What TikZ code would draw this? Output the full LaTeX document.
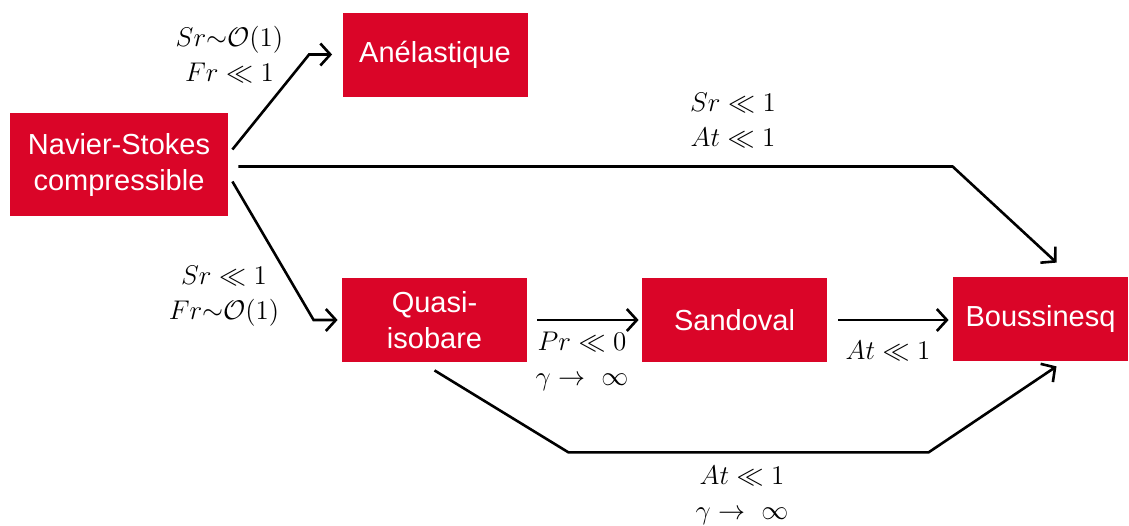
\RequirePackage{fix-cm}
\documentclass[tikz,border=0pt]{standalone}
\usepackage[no-math]{fontspec}
\usepackage{amsmath,amssymb}
\newfontfamily\boxfont{Liberation Sans}
\usetikzlibrary{arrows.meta,calc}
\definecolor{rouge}{RGB}{218,5,40}

\begin{document}
\begin{tikzpicture}[x=0.5pt,y=-0.5pt]
 % one unit = one pixel of the drawing, y going down
\tikzset{modele/.style={fill=rouge, text=white, minimum width=92.5pt, minimum height=42pt, inner sep=0pt, align=center, font=\boxfont\fontsize{14.5}{18}\selectfont}}
\tikzset{fleche/.style={line width=1.3pt, -{Straight Barb[length=5pt,width=11pt]}}}
\tikzset{hyp/.style={align=center, inner sep=0pt, font=\fontsize{13.5}{17.5}\selectfont}} % hypotheses on the arrows
\useasboundingbox (0,0) rectangle (1129,525);

\node[modele, minimum width=109pt, minimum height=51.5pt] (ns) at (119,164.5) {Navier-Stokes\\compressible};
\node[modele] (anel) at (435,54.5) {Anélastique};
\node[modele] (quasi) at (434.5,320) {Quasi-\\isobare};
\node[modele] (sand) at (734.5,320) {Sandoval};
\node[modele, minimum width=87.5pt] (bous) at (1040.5,319) {Boussinesq};

\draw[fleche] ([shift={(4,-15)}]ns.east) -- ([shift={(-33,0)}]anel.west) -- ([shift={(-10,0)}]anel.west);
\draw[fleche] ([shift={(10,2)}]ns.east) coordinate (a) -- (a -| bous.west) -- ([shift={(16,-14)}]bous.north);
\draw[fleche] ([shift={(4,17)}]ns.east) -- ([shift={(-28,0)}]quasi.west) -- ([shift={(-4,0)}]quasi.west);
\draw[fleche] ([shift={(10,0)}]quasi.east) -- ([shift={(-3,0)}]sand.west);
\draw[fleche] ([shift={(11,0)}]sand.east) -- ([shift={(-4,0)}]bous.west |- sand.east);
\draw[fleche] ([shift={(0,8)}]quasi.south) -- ++(134,82) -- ++(360,0) -- ([shift={(16,5)}]bous.south);

\node[hyp] (c1) at (229.5,54) {$Sr{\sim}\mathcal{O}(1)$\\$Fr\ll 1$};
\node[hyp] (c2) at (733,120) {$Sr\ll 1$\\$At\ll 1$};
\node[hyp] (c3) at (224,296) {$Sr\ll 1$\\$Fr{\sim}\mathcal{O}(1)$};
\node[hyp] (c4) at (582,361) {$Pr\ll 0$\\$\gamma\to\ \infty$};
\node[hyp] (c5) at (888,351) {$At\ll 1$};
\node[hyp] (c6) at (742,495) {$At\ll 1$\\$\gamma\to\ \infty$};
\end{tikzpicture}
\end{document}
